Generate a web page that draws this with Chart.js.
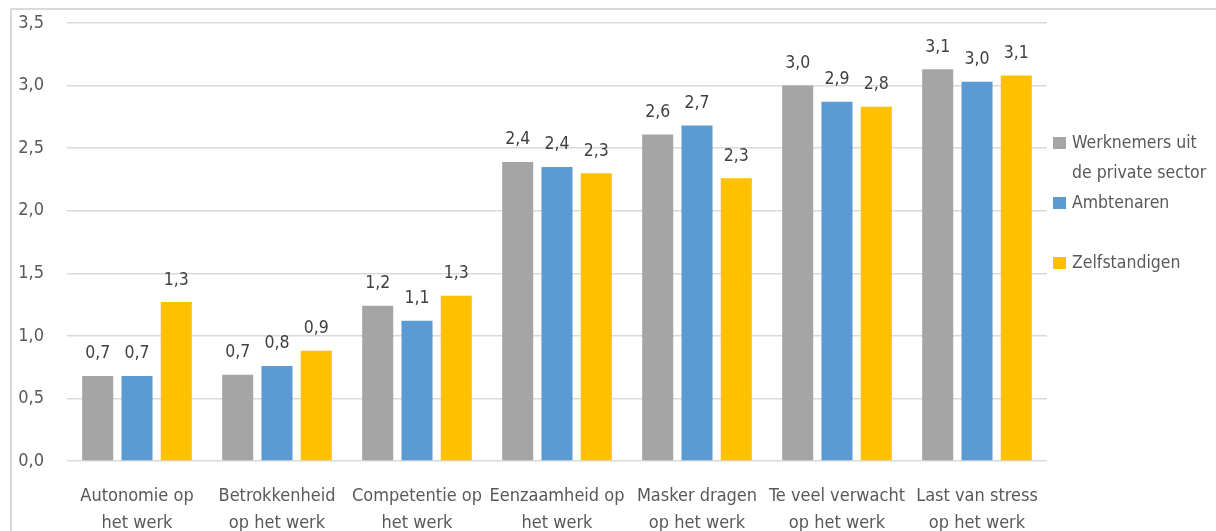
<!DOCTYPE html>
<html><head><meta charset="utf-8">
<script src="https://cdn.jsdelivr.net/npm/chart.js@4.4.1/dist/chart.umd.min.js"></script>
<style>
html,body{margin:0;padding:0;background:#fff;overflow:hidden;}
#wrap{position:relative;width:1216px;height:531px;}
#frame{position:absolute;left:10px;top:8px;width:1300px;height:600px;border:2px solid #d9d9d9;box-sizing:border-box;}
canvas{position:absolute;left:0;top:0;}
</style></head><body>
<div id="wrap"><div id="frame"></div><canvas id="c" width="1216" height="531"></canvas></div>
<script>
const categories = [
  ['Autonomie op', 'het werk'],
  ['Betrokkenheid', 'op het werk'],
  ['Competentie op', 'het werk'],
  ['Eenzaamheid op', 'het werk'],
  ['Masker dragen', 'op het werk'],
  ['Te veel verwacht', 'op het werk'],
  ['Last van stress', 'op het werk']
];
const seriesNames = [['Werknemers uit', 'de private sector'], ['Ambtenaren'], ['Zelfstandigen']];
const privateSector = [0.68, 0.69, 1.24, 2.39, 2.61, 3.00, 3.13];
const ambtenaren    = [0.68, 0.76, 1.12, 2.35, 2.68, 2.87, 3.03];
const zelfstandigen = [1.27, 0.88, 1.32, 2.30, 2.26, 2.83, 3.08];
const yTicks = [0, 0.5, 1.0, 1.5, 2.0, 2.5, 3.0, 3.5];
const colors = ['#A5A5A5', '#5B9BD5', '#FFC000'];

const FONT = '"DejaVu Sans Condensed", "Liberation Sans Narrow", "Roboto", sans-serif';
const TEXT = '#595959';
const fmt = v => v.toFixed(1).replace('.', ',');

const dataLabels = {
  id: 'dataLabels',
  afterDatasetsDraw(chart) {
    const ctx = chart.ctx;
    ctx.save();
    ctx.font = '17.5px ' + FONT;
    ctx.fillStyle = '#404040';
    ctx.textAlign = 'center';
    ctx.textBaseline = 'middle';
    chart.data.datasets.forEach((ds, i) => {
      const meta = chart.getDatasetMeta(i);
      meta.data.forEach((el, j) => {
        ctx.fillText(fmt(ds.data[j]), el.x, el.y - 22);
      });
    });
    ctx.restore();
  }
};

const sideLegend = {
  id: 'sideLegend',
  afterDraw(chart) {
    const ctx = chart.ctx;
    const x0 = chart.chartArea.right + 6;
    let slotTop = 128;
    ctx.save();
    ctx.font = '17.5px ' + FONT;
    ctx.textAlign = 'left';
    ctx.textBaseline = 'middle';
    chart.data.datasets.forEach((ds, i) => {
      const lines = seriesNames[i];
      const first = slotTop + 15;
      ctx.fillStyle = ds.backgroundColor;
      ctx.fillRect(x0, first - 6, 13, 12);
      ctx.fillStyle = TEXT;
      lines.forEach((ln, k) => ctx.fillText(ln, x0 + 19, first + 30 * k));
      slotTop += 60;
    });
    ctx.restore();
  }
};

new Chart(document.getElementById('c'), {
  type: 'bar',
  data: {
    labels: categories,
    datasets: [
      { label: seriesNames[0].join(' '), data: privateSector, backgroundColor: colors[0] },
      { label: seriesNames[1].join(' '), data: ambtenaren, backgroundColor: colors[1] },
      { label: seriesNames[2].join(' '), data: zelfstandigen, backgroundColor: colors[2] }
    ]
  },
  options: {
    responsive: false,
    devicePixelRatio: 1,
    animation: false,
    categoryPercentage: 0.842,
    barPercentage: 0.79,
    layout: { padding: { left: 0, right: 169, top: 23, bottom: 0 } },
    plugins: { legend: { display: false }, tooltip: { enabled: false } },
    scales: {
      x: {
        grid: { display: false, drawTicks: false },
        border: { display: false },
        ticks: { color: TEXT, font: { family: FONT, size: 18, lineHeight: 1.5 }, padding: 22, maxRotation: 0, autoSkip: false },
        afterFit(s) { s.height = 70; s.paddingLeft = 0; s.paddingRight = 0; }
      },
      y: {
        min: 0, max: 3.5,
        afterBuildTicks(s) { s.ticks = yTicks.map(v => ({ value: v })); },
        grid: { color: '#D9D9D9', lineWidth: 1.4, drawTicks: false },
        border: { display: false },
        ticks: { color: TEXT, font: { family: FONT, size: 18 }, padding: 23, callback: v => fmt(v) },
        afterFit(s) { s.width = 67; s.paddingTop = 0; s.paddingBottom = 0; }
      }
    }
  },
  plugins: [dataLabels, sideLegend]
});
</script>
</body></html>
